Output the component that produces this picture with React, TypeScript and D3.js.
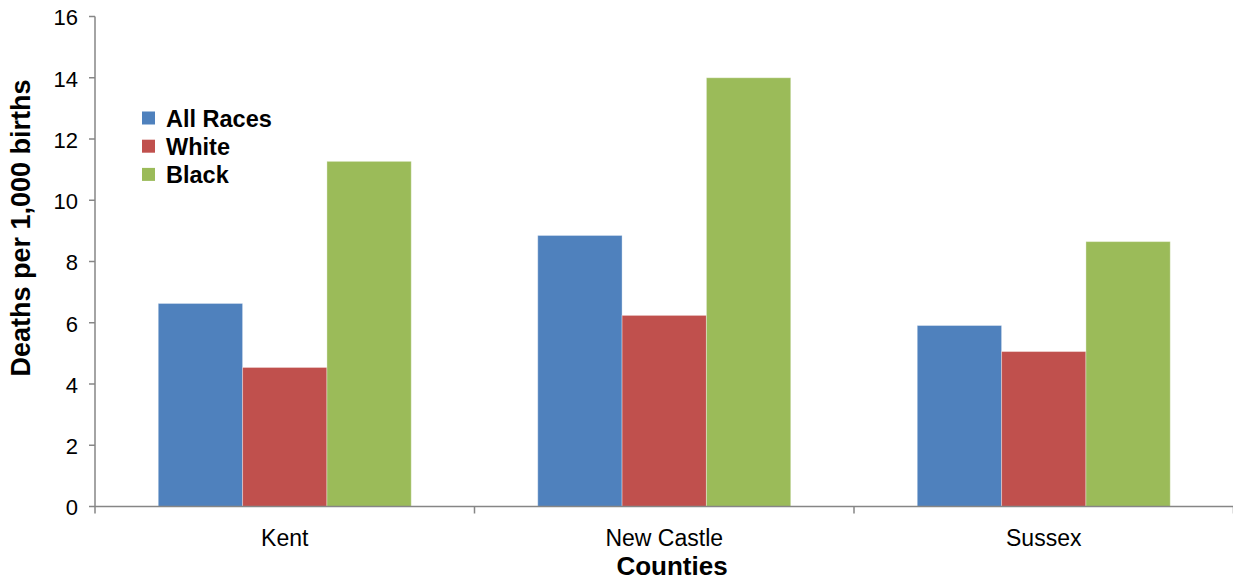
import React from "react";
import * as d3 from "d3";

const categories = ["Kent", "New Castle", "Sussex"];
const seriesNames = ["All Races", "White", "Black"];
const allRaces = [6.63, 8.85, 5.91];
const white = [4.54, 6.24, 5.06];
const black = [11.27, 14.0, 8.65];
const yTicks = [0, 2, 4, 6, 8, 10, 12, 14, 16];
const colors = ["#4F81BD", "#C0504D", "#9BBB59"];

const W = 1233, H = 577;
const left = 95, right = 1233.5, top = 16.5, bottom = 506.5;
const font = "'Liberation Sans', Arial, sans-serif";

export default function App() {
  const series = [allRaces, white, black];
  const x = d3.scaleBand<string>().domain(categories).range([left, right]).paddingInner(0).paddingOuter(0);
  const inner = d3.scaleBand<string>().domain(seriesNames).range([0, x.bandwidth()]).paddingInner(0).paddingOuter(0.75);
  const y = d3.scaleLinear().domain([0, 16]).range([bottom, top]);
  const axisColor = "#868686";
  return (
    <svg width={W} height={H} style={{ position: "absolute", left: 0, top: 0, background: "#fff" }} fontFamily={font}>
      {categories.map((c, i) =>
        seriesNames.map((s, j) => {
          const v = series[j][i];
          return (
            <rect key={c + s} x={x(c)! + inner(s)!} y={y(v)} width={inner.bandwidth()} height={y(0) - y(v)}
              fill={colors[j]} stroke="#ffffff" strokeOpacity={0.35} strokeWidth={1} />
          );
        })
      )}
      <line x1={left} x2={left} y1={top} y2={bottom} stroke={axisColor} strokeWidth={1.5} />
      {yTicks.map((t) => (
        <g key={t}>
          <line x1={left - 6} x2={left} y1={y(t)} y2={y(t)} stroke={axisColor} strokeWidth={1.5} />
          <text x={78} y={y(t)} dy="0.4em" textAnchor="end" fontSize={22} fill="#000">{t}</text>
        </g>
      ))}
      <line x1={left} x2={W} y1={bottom} y2={bottom} stroke={axisColor} strokeWidth={1.5} />
      {[...categories.map((c) => x(c)!), right].map((p, i) => (
        <line key={i} x1={p} x2={p} y1={bottom} y2={bottom + 7} stroke={axisColor} strokeWidth={1.5} />
      ))}
      {categories.map((c) => (
        <text key={c} x={x(c)! + x.bandwidth() / 2} y={546} textAnchor="middle" fontSize={23} fill="#000">{c}</text>
      ))}
      <text x={672} y={575} textAnchor="middle" fontSize={26} fontWeight="bold" fill="#000">Counties</text>
      <text transform={`translate(30,228) rotate(-90)`} textAnchor="middle" fontSize={27} fontWeight="bold" fill="#000">Deaths per 1,000 births</text>
      {seriesNames.map((s, j) => (
        <g key={s}>
          <rect x={142} y={111.5 + j * 28.2} width={13} height={13} fill={colors[j]} />
          <text x={166} y={126.5 + j * 28.2} fontSize={23.5} fontWeight="bold" fill="#000">{s}</text>
        </g>
      ))}
    </svg>
  );
}
